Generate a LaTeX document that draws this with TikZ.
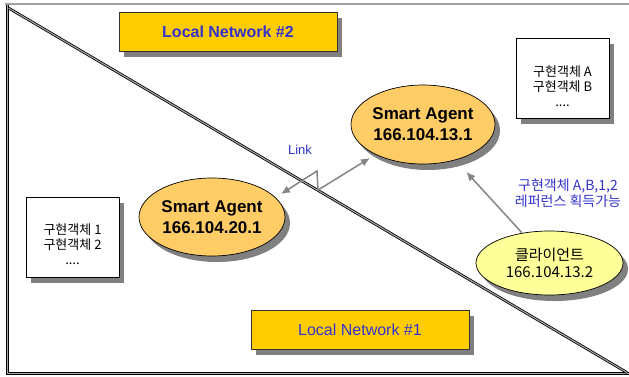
\documentclass[tikz,border=0pt]{standalone}
\usepackage{fontspec}
\setmainfont{Liberation Sans}
\newfontfamily\kr{Noto Sans CJK KR}
\usetikzlibrary{shadows,shapes.geometric,arrows.meta}
\definecolor{gold}{HTML}{FFCC00}
\definecolor{agentfill}{HTML}{FFCC66}
\definecolor{clientfill}{HTML}{FFFF99}
\definecolor{shadowgray}{HTML}{808080}
\definecolor{txtblue}{HTML}{3333CC}
\definecolor{arrgray}{HTML}{858585}
\begin{document}
\begin{tikzpicture}[x=1pt,y=-1pt,
  shd/.style={drop shadow={shadow xshift=5pt,shadow yshift=-6pt,fill=shadowgray,opacity=1}},
  netbox/.style={draw=black!80,fill=gold,line width=0.7pt,minimum width=218pt,minimum height=39pt,inner sep=0pt,shd,text=txtblue},
  objbox/.style={draw=black,fill=white,line width=0.7pt,minimum width=93pt,minimum height=80pt,inner sep=0pt,shd},
  objtext/.style={align=center,font=\kr\fontsize{13}{15}\selectfont,inner sep=0pt},
  agentnode/.style={ellipse,draw=black,fill=agentfill,line width=0.7pt,inner sep=0pt,shd,align=center,font=\bfseries\fontsize{17}{21}\selectfont},
  clientnode/.style={ellipse,draw=black,fill=clientfill,line width=0.7pt,inner sep=0pt,shd,align=center,font=\kr\fontsize{15}{17}\selectfont},
  bluetext/.style={text=txtblue,align=center,inner sep=0pt},
  arr/.style={draw=arrgray,line width=1.5pt},
  tip/.style={-{Latex[length=9pt,width=8pt]}},
  dline/.style={draw=black,line width=0.8pt,double=gray!70,double distance=1.1pt}
]
\useasboundingbox (0,0) rectangle (629,376);
% frame
\draw[gray!75,line width=2pt] (5,4.3) -- (629,4.3);
\draw[dline] (7.8,5) -- (7.8,373.7) -- (629,373.7);
\draw[dline] (8.5,8) -- (627,372.5);

% network labels
\node[netbox,font=\bfseries\fontsize{16}{18}\selectfont] (ln2) at (228,31.5) {Local Network \#2};
\node[netbox,font=\fontsize{16}{18}\selectfont] (ln1) at (360,329.5) {Local Network \#1};

% object boxes
\node[objbox] (boxa) at (562.5,78) {};
\node[objtext] (texta) at ([yshift=-8pt]boxa.center) {구현객체 A\\구현객체 B\\....};
\node[objbox] (box1) at (72.5,237) {};
\node[objtext] (text1) at ([yshift=-7pt]box1.center) {구현객체 1\\구현객체 2\\....};

% agents and client
\node[agentnode,minimum width=144pt,minimum height=79pt] (sa1) at (423,124.5) {Smart Agent\\166.104.13.1};
\node[agentnode,minimum width=146pt,minimum height=78pt] (sa2) at (212,217) {Smart Agent\\166.104.20.1};
\node[clientnode,minimum width=147pt,minimum height=64pt] (cl) at (549.5,263) {클라이언트\\166.104.13.2};

% link connector
\coordinate (l1) at (281,194);
\coordinate (z1) at (317,171);
\coordinate (z2) at (318,190);
\coordinate (l2) at (370,158);
\draw[arr,{Latex[length=9pt,width=8pt]}-{Latex[length=9pt,width=8pt]},line join=miter] (l1) -- (z1) -- (z2) -- (l2);
\node[bluetext,font=\fontsize{13}{15}\selectfont] (lk) at (300,150) {Link};

% client arrow
\draw[arr,tip,shorten >=16pt] (cl) -- (sa1);
\node[bluetext,font=\kr\fontsize{14}{16}\selectfont] (ref) at (568,193) {구현객체 A,B,1,2\\레퍼런스 획득가능};
\end{tikzpicture}
\end{document}
